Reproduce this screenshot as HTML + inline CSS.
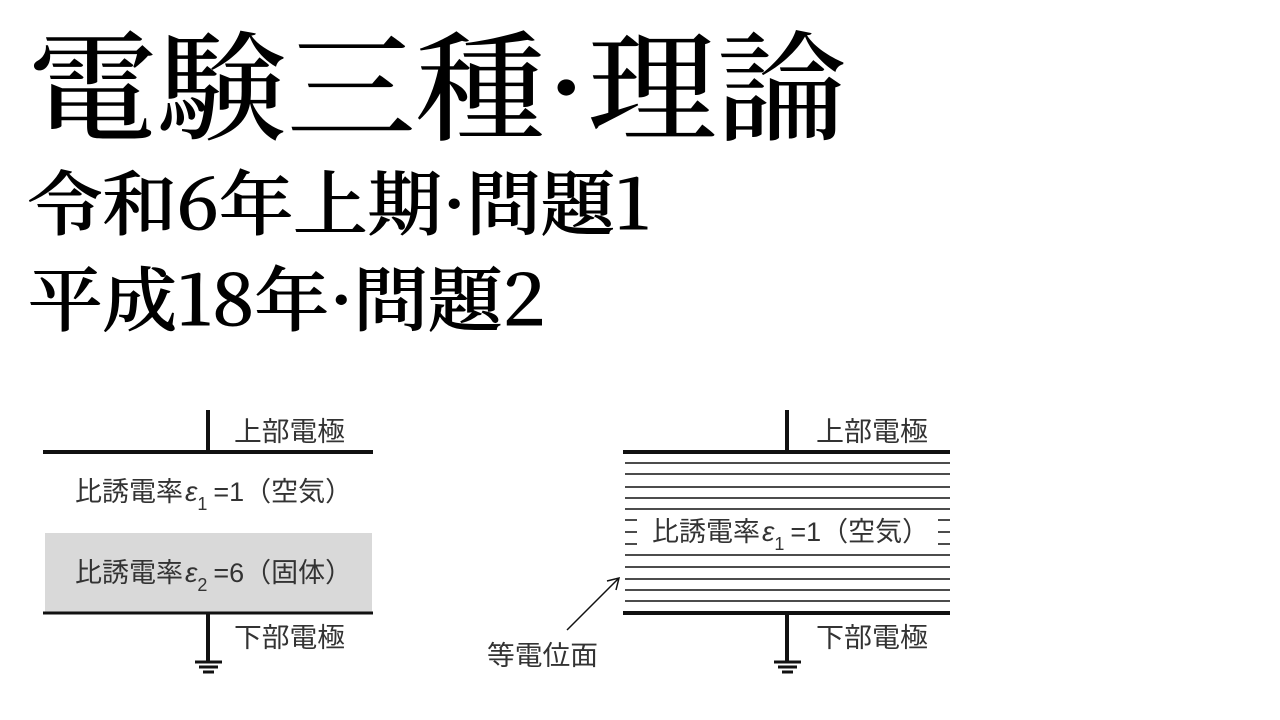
<!DOCTYPE html>
<html><head><meta charset="utf-8"><style>
html,body{margin:0;padding:0;background:#fff;width:1280px;height:720px;overflow:hidden}
svg{display:block}
.t{font-family:"Noto Serif CJK JP","Noto Serif CJK SC",serif;font-weight:500;fill:#000}
.l{font-family:"Liberation Sans","Noto Sans CJK JP",sans-serif;fill:#333;font-size:27px}
</style></head><body>
<svg width="1280" height="720" viewBox="0 0 1280 720" xmlns="http://www.w3.org/2000/svg">
<text class="t" x="28" y="131" font-size="120" textLength="818" lengthAdjust="spacingAndGlyphs">電験三種·理論</text>
<text class="t" x="28" y="229" font-size="70" textLength="622" lengthAdjust="spacingAndGlyphs" stroke="#000" stroke-width="1">令和6年上期·問題1</text>
<text class="t" x="28" y="325" font-size="70" textLength="517" lengthAdjust="spacingAndGlyphs" stroke="#000" stroke-width="1">平成18年·問題2</text>

<g stroke="#111" fill="none">
<line x1="208" y1="410" x2="208" y2="452" stroke-width="4"/>
<line x1="43" y1="452" x2="373" y2="452" stroke-width="4"/>
<rect x="45" y="533" width="327" height="79" fill="#d9d9d9" stroke="none"/>
<line x1="43" y1="613" x2="373" y2="613" stroke-width="3"/>
<line x1="208" y1="613" x2="208" y2="662" stroke-width="4"/>
<line x1="195" y1="662" x2="222" y2="662" stroke-width="3"/>
<line x1="199" y1="667" x2="218" y2="667" stroke-width="3"/>
<line x1="203" y1="672" x2="214" y2="672" stroke-width="3"/>
</g>
<text class="l" x="234" y="441" textLength="111" lengthAdjust="spacingAndGlyphs">上部電極</text>
<text class="l" x="75" y="501">比誘電率<tspan font-style="italic" font-size="28" dx="2">ε</tspan><tspan font-size="18" dy="9">1</tspan><tspan dy="-9" dx="6">=1（空気）</tspan></text>
<text class="l" x="75" y="582">比誘電率<tspan font-style="italic" font-size="28" dx="2">ε</tspan><tspan font-size="18" dy="9">2</tspan><tspan dy="-9" dx="6">=6（固体）</tspan></text>
<text class="l" x="234" y="647" textLength="111" lengthAdjust="spacingAndGlyphs">下部電極</text>

<g stroke="#111" fill="none">
<line x1="787" y1="410" x2="787" y2="452" stroke-width="4"/>
<line x1="623" y1="452" x2="950" y2="452" stroke-width="4"/>
<g stroke-width="1.5">
<line x1="625" y1="463" x2="950" y2="463"/>
<line x1="625" y1="474" x2="950" y2="474"/>
<line x1="625" y1="487" x2="950" y2="487"/>
<line x1="625" y1="498" x2="950" y2="498"/>
<line x1="625" y1="509" x2="950" y2="509"/>
<line x1="625" y1="520" x2="637" y2="520"/><line x1="938" y1="520" x2="950" y2="520"/>
<line x1="625" y1="532" x2="637" y2="532"/><line x1="938" y1="532" x2="950" y2="532"/>
<line x1="625" y1="544" x2="637" y2="544"/><line x1="938" y1="544" x2="950" y2="544"/>
<line x1="625" y1="555" x2="950" y2="555"/>
<line x1="625" y1="567" x2="950" y2="567"/>
<line x1="625" y1="579" x2="950" y2="579"/>
<line x1="625" y1="590" x2="950" y2="590"/>
<line x1="625" y1="601" x2="950" y2="601"/>
<line x1="567" y1="630" x2="618" y2="579"/>
<polyline points="607,581 619,578 616,590"/>
</g>
<line x1="623" y1="613" x2="950" y2="613" stroke-width="4"/>
<line x1="787" y1="613" x2="787" y2="662" stroke-width="4"/>
<line x1="774" y1="662" x2="801" y2="662" stroke-width="3"/>
<line x1="778" y1="667" x2="797" y2="667" stroke-width="3"/>
<line x1="782" y1="672" x2="793" y2="672" stroke-width="3"/>
</g>
<text class="l" x="816" y="441" textLength="112" lengthAdjust="spacingAndGlyphs">上部電極</text>
<text class="l" x="652" y="541">比誘電率<tspan font-style="italic" font-size="28" dx="2">ε</tspan><tspan font-size="18" dy="9">1</tspan><tspan dy="-9" dx="6">=1（空気）</tspan></text>
<text class="l" x="816" y="647" textLength="112" lengthAdjust="spacingAndGlyphs">下部電極</text>
<text class="l" x="487" y="665" textLength="111" lengthAdjust="spacingAndGlyphs">等電位面</text>
</svg>
</body></html>
